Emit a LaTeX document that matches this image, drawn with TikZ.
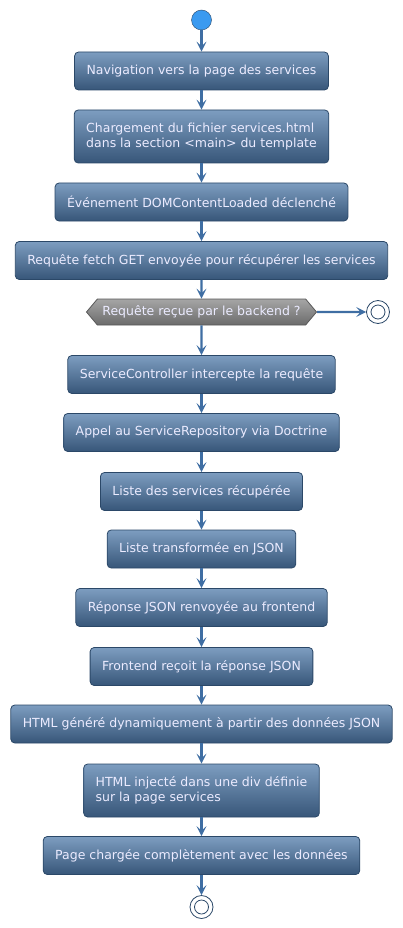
\documentclass[tikz,border=0pt]{standalone}
\usepackage{fontspec}
\setmainfont{DejaVu Sans}
\usetikzlibrary{arrows.meta,shapes.symbols}
\definecolor{boxtop}{HTML}{7D9DC0}
\definecolor{boxbot}{HTML}{375679}
\definecolor{boxline}{HTML}{2B4868}
\definecolor{flow}{HTML}{3F6EA3}
\definecolor{startblue}{HTML}{3A9AF0}
\begin{document}
\begin{tikzpicture}[x=1pt, y=-1pt,
    every node/.style={font=\fontsize{12.5}{15.5}\selectfont, text=white!92!blue},
    action/.style={rectangle, rounded corners=4pt, draw=boxline, line width=0.8pt,
        top color=boxtop, bottom color=boxbot, inner xsep=12pt, minimum height=38pt},
    twoline/.style={action, align=left, minimum height=53pt},
    choice/.style={signal, signal to=west and east, signal pointer angle=100,
        draw=black!65, line width=0.8pt, top color=black!35, bottom color=black!58,
        inner xsep=5pt, minimum height=26pt},
    flowline/.style={draw=flow, line width=2.2pt, -{Stealth[length=10pt,width=10pt,inset=4.5pt]}}]
    \useasboundingbox (0,0) rectangle (402,928);
            \node[circle, draw=boxline, fill=startblue, minimum size=20pt, inner sep=0pt] (start) at (201.5,20) {};
            \node[action] (n1) at (201.5,71) {Navigation vers la page des services};
            \node[twoline] (n2) at (201.5,136.5) {Chargement du fichier services.html\\dans la section <main> du template};
            \node[action] (n3) at (201.5,202) {Événement DOMContentLoaded déclenché};
            \node[action] (n4) at (201.5,260.5) {Requête fetch GET envoyée pour récupérer les services};
            \node[choice] (q) at (201.5,312) {Requête reçue par le backend ?};
            \node[circle, draw=boxline, fill=white, line width=0.8pt, minimum size=23pt, inner sep=0pt] (stop1) at (378,312) {};
            \draw[boxline, line width=0.8pt] (stop1) circle (7pt);
            \node[action] (n5) at (201.5,374.5) {ServiceController intercepte la requête};
            \node[action] (n6) at (201.5,432.5) {Appel au ServiceRepository via Doctrine};
            \node[action] (n7) at (201.5,491.5) {Liste des services récupérée};
            \node[action] (n8) at (201.5,549) {Liste transformée en JSON};
            \node[action] (n9) at (201.5,607.5) {Réponse JSON renvoyée au frontend};
            \node[action] (n10) at (201.5,666.5) {Frontend reçoit la réponse JSON};
            \node[action] (n11) at (201.5,724) {HTML généré dynamiquement à partir des données JSON};
            \node[twoline] (n12) at (201.5,790.5) {HTML injecté dans une div définie\\sur la page services};
            \node[action] (n13) at (201.5,855.5) {Page chargée complètement avec les données};
            \node[circle, draw=boxline, fill=white, line width=0.8pt, minimum size=23pt, inner sep=0pt] (stop2) at (201.5,907) {};
            \draw[boxline, line width=0.8pt] (stop2) circle (7pt);

            \draw[flowline] (start) -- (n1);
            \draw[flowline] (n1) -- (n2);
            \draw[flowline] (n2) -- (n3);
            \draw[flowline] (n3) -- (n4);
            \draw[flowline] (n4) -- (q);
            \draw[flowline] (q) -- (stop1);
            \draw[flowline] (q) -- (n5);
            \draw[flowline] (n5) -- (n6);
            \draw[flowline] (n6) -- (n7);
            \draw[flowline] (n7) -- (n8);
            \draw[flowline] (n8) -- (n9);
            \draw[flowline] (n9) -- (n10);
            \draw[flowline] (n10) -- (n11);
            \draw[flowline] (n11) -- (n12);
            \draw[flowline] (n12) -- (n13);
            \draw[flowline] (n13) -- (stop2);
        \end{tikzpicture}
\end{document}
